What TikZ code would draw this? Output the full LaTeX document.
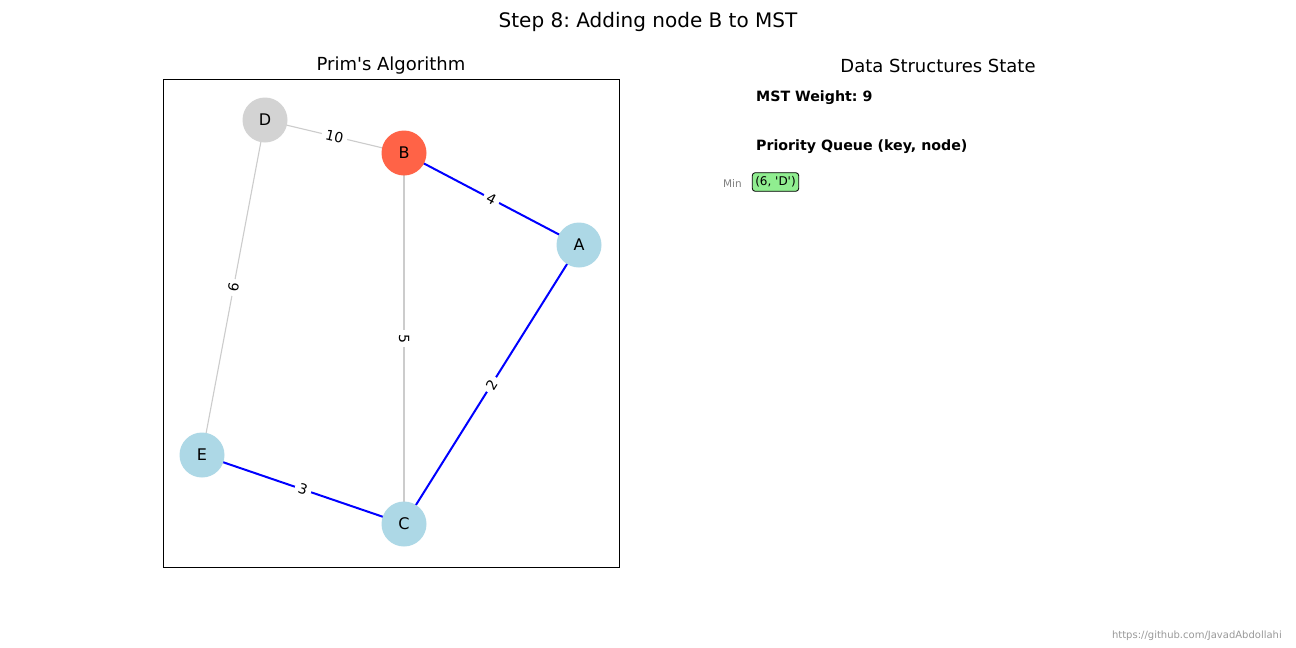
\documentclass[tikz,border=0pt]{standalone}
\usepackage{fontspec}
\setmainfont{DejaVu Sans}[Ligatures=TeXOff]
\frenchspacing
\definecolor{nodeblue}{HTML}{ADD8E6}
\definecolor{nodegray}{HTML}{D3D3D3}
\definecolor{tomato}{HTML}{FF6347}
\definecolor{edgegray}{HTML}{CCCCCC}
\definecolor{lgreen}{HTML}{90EE90}
\definecolor{urlgray}{HTML}{999999}
\definecolor{mingray}{HTML}{808080}
\begin{document}
\begin{tikzpicture}[x=1pt,y=-1pt,
  vert/.style={circle,minimum size=45pt,inner sep=0pt,font=\fontsize{16}{18}\selectfont},
  lightedge/.style={edgegray,line width=1.1pt},
  mstedge/.style={blue,line width=2pt},
  wlabel/.style={sloped,fill=white,inner sep=4pt,text=black,font=\fontsize{14}{16}\selectfont},
  paneltitle/.style={font=\fontsize{18}{21}\selectfont},
  infotext/.style={anchor=west,inner sep=0pt,font=\bfseries\fontsize{14.2}{16}\selectfont}]
\useasboundingbox (0,0) rectangle (1296,648);
\fill[white] (0,0) rectangle (1296,648);
% titles
\node[font=\fontsize{20}{23}\selectfont] (title) at (648,22) {Step 8: Adding node B to MST};
\node[paneltitle] (lt) at (391,66) {Prim's Algorithm};
\node[paneltitle] (rt) at (938,66) {Data Structures State};
% axes box
\draw[line width=0.8pt] (163,79) rectangle (619,567);
% node positions
\coordinate (D) at (265,120);
\coordinate (B) at (404,153);
\coordinate (A) at (579,245);
\coordinate (E) at (202,455);
\coordinate (C) at (404,524);
% edges
\draw[lightedge] (D) -- node[wlabel] {10} (B);
\draw[lightedge] (D) -- node[wlabel] {6} (E);
\draw[lightedge] (B) -- node[wlabel] {5} (C);
\draw[mstedge] (B) -- node[wlabel] {4} (A);
\draw[mstedge] (A) -- node[wlabel] {2} (C);
\draw[mstedge] (E) -- node[wlabel] {3} (C);
% nodes on top
\node[vert,fill=nodegray] (nD) at (D) {D};
\node[vert,fill=tomato] (nB) at (B) {B};
\node[vert,fill=nodeblue] (nA) at (A) {A};
\node[vert,fill=nodeblue] (nE) at (E) {E};
\node[vert,fill=nodeblue] (nC) at (C) {C};
% data structures
\node[infotext] (mw) at (756,98) {MST Weight: 9};
\node[infotext] (pq) at (756,147) {Priority Queue (key, node)};
\node[anchor=east,inner sep=0pt,text=mingray,font=\fontsize{10.5}{12}\selectfont] (min) at (742,184) {Min};
\node[draw=black,fill=lgreen,rounded corners=3pt,line width=0.8pt,inner xsep=3pt,inner ysep=4pt,font=\fontsize{12}{14}\selectfont] (pq1) at (775.5,182) {(6, 'D')};
\node[anchor=east,inner sep=0pt,text=urlgray,font=\fontsize{10}{12}\selectfont] (url) at (1282,636) {https://github.com/JavadAbdollahi};
\end{tikzpicture}
\end{document}
